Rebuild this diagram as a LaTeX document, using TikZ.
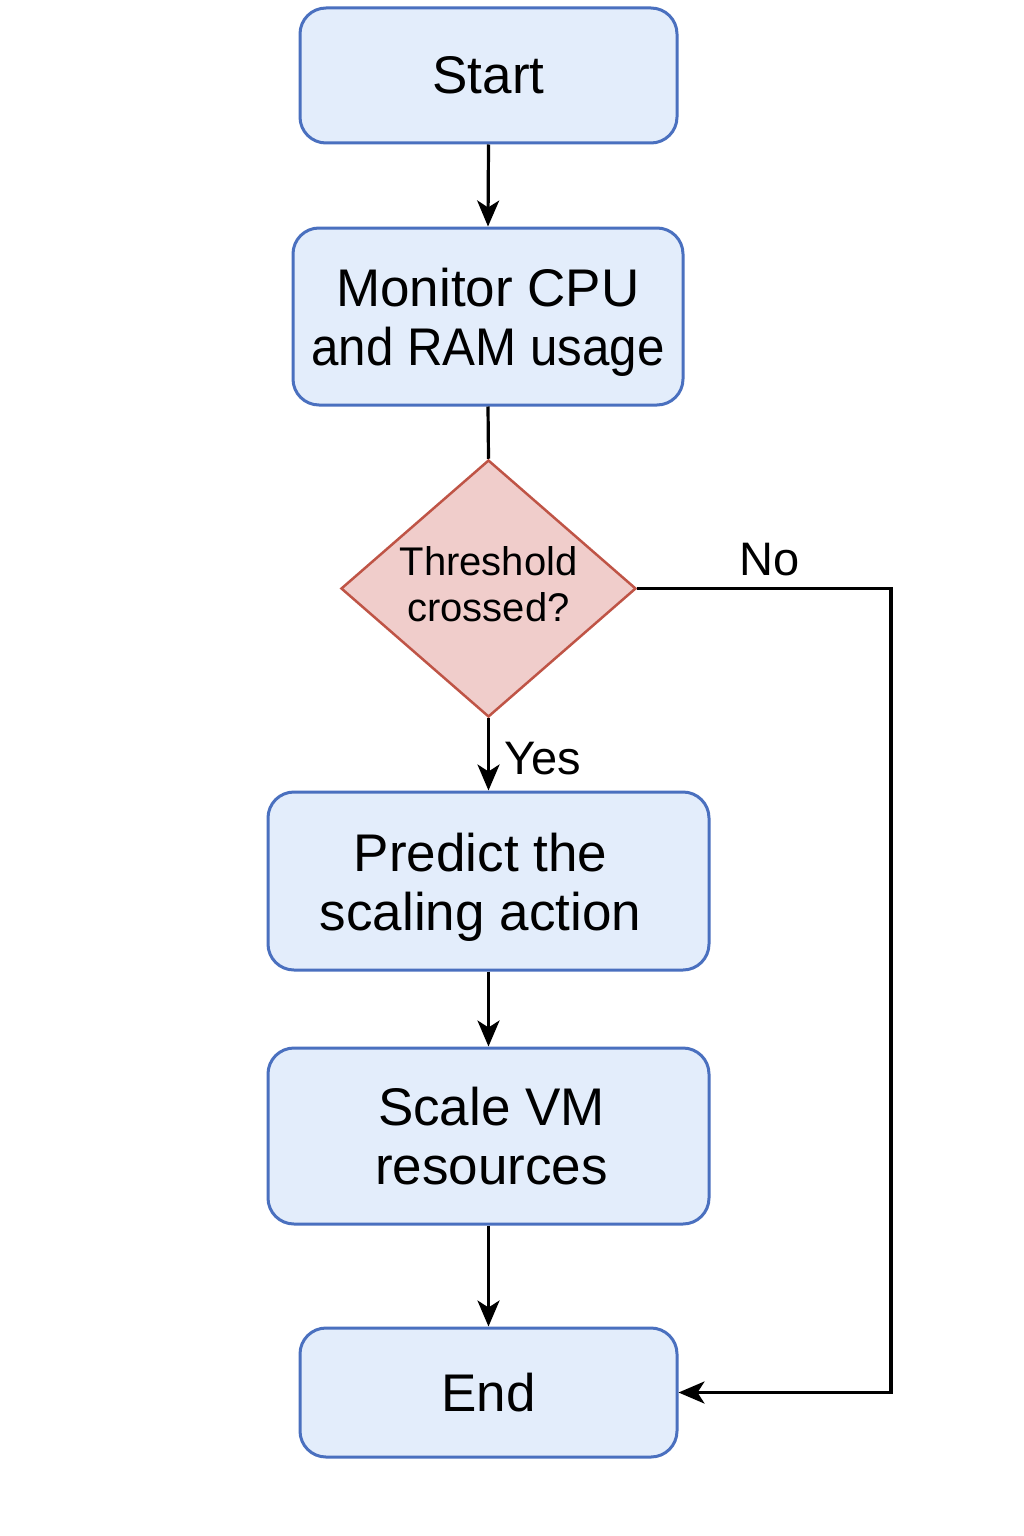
\documentclass[tikz,border=0pt]{standalone}
\usepackage{fontspec}
\setmainfont{Liberation Sans}
\usetikzlibrary{arrows.meta,shapes.geometric}
\definecolor{boxfill}{HTML}{E3EDFB}
\definecolor{boxline}{HTML}{4A70BF}
\definecolor{diafill}{HTML}{F0CDCB}
\definecolor{dialine}{HTML}{BF5446}
\tikzset{
  procbox/.style={draw=boxline, fill=boxfill, line width=3pt, rounded corners=26pt,
    inner sep=0pt, align=center, font=\fontsize{53}{59}\selectfont},
  inner/.style={font=\fontsize{53}{59}\selectfont, align=center, inner sep=0pt},
  decision/.style={diamond, draw=dialine, fill=diafill, line width=2.5pt, inner sep=0pt,
    align=center, font=\fontsize{40}{46}\selectfont},
  conn/.style={line width=3.2pt, draw=black},
  arr/.style={conn, -{Stealth[length=26pt,width=22pt,inset=7pt]}},
  lbl/.style={font=\fontsize{47}{50}\selectfont, inner sep=0pt}
}
\begin{document}
\begin{tikzpicture}[x=1pt,y=-1pt]
\useasboundingbox[fill=white] (0,0) rectangle (1024,1536);
\node[procbox, minimum width=377pt, minimum height=135pt] (start) at (488.5,75.5) {Start};
\node[procbox, minimum width=390pt, minimum height=177pt,
  label={[inner, yshift=-6pt]center:Monitor CPU\\\scalebox{0.93}[1]{and RAM usage}}] (mon) at (488,316.5) {};
\node[decision, minimum width=295pt, minimum height=257pt,
  label={[decision, draw=none, fill=none, shape=rectangle, yshift=4pt]center:Threshold\\crossed?}] (dia) at (488.5,588.5) {};
\node[procbox, minimum width=441pt, minimum height=178pt,
  label={[inner, yshift=-6pt, xshift=-8pt]center:Predict the\\scaling action}] (pred) at (488.5,881) {};
\node[procbox, minimum width=441pt, minimum height=176pt,
  label={[inner, xshift=3pt]center:Scale VM\\resources}] (scale) at (488.5,1136) {};
\node[procbox, minimum width=377pt, minimum height=129pt] (end) at (488.5,1392.5) {End};
\coordinate (corner) at (891,588.5);
\draw[arr] (start.south) -- (mon.north);
\draw[conn] (mon.south) -- (dia.north);
\draw[arr] (dia.south) -- node[lbl, anchor=west, xshift=14pt, yshift=-4pt] {Yes} (pred.north);
\draw[arr] (pred.south) -- (scale.north);
\draw[arr] (scale.south) -- (end.north);
\draw[arr] (dia.east) -- (corner) |- (end.east);
\node[lbl] (no) at (770,560) {No};
\end{tikzpicture}
\end{document}
